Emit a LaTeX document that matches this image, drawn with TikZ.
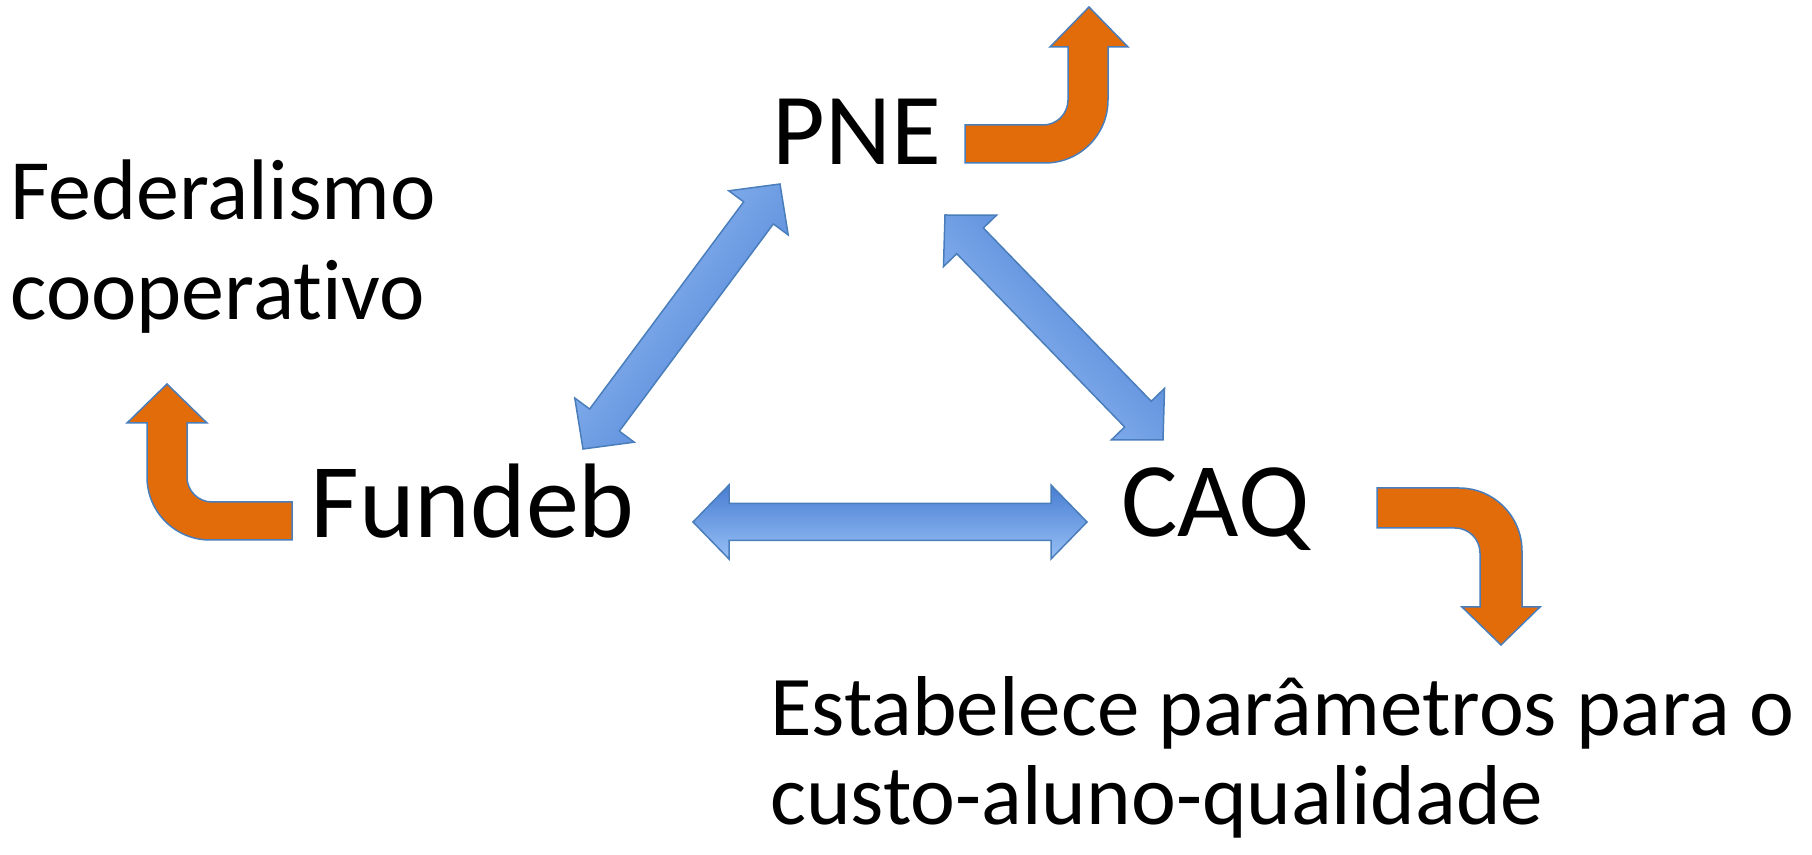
\documentclass[tikz,border=0pt]{standalone}
\usepackage{fontspec}
\setmainfont{Carlito}[Ligatures=NoCommon]
\usetikzlibrary{calc}

\definecolor{orangefill}{RGB}{227,108,10}
\definecolor{shapeline}{RGB}{74,126,187}
\definecolor{bluedark}{RGB}{72,125,210}
\definecolor{bluelight}{RGB}{152,192,246}

\newcommand{\headlen}{18pt}
\newcommand{\headhalf}{18.5pt}
\newcommand{\shafthalf}{9.25pt}

% double arrow between two named coordinates
\newcommand{\dblarrow}[3][]{%
  \path[bluearrow,#1] (#2)
    -- ($(#2)!\headlen!(#3)!\headhalf!90:(#3)$)
    -- ($(#2)!\headlen!(#3)!\shafthalf!90:(#3)$)
    -- ($(#3)!\headlen!(#2)!\shafthalf!-90:(#2)$)
    -- ($(#3)!\headlen!(#2)!\headhalf!-90:(#2)$)
    -- (#3)
    -- ($(#3)!\headlen!(#2)!\headhalf!90:(#2)$)
    -- ($(#3)!\headlen!(#2)!\shafthalf!90:(#2)$)
    -- ($(#2)!\headlen!(#3)!\shafthalf!-90:(#3)$)
    -- ($(#2)!\headlen!(#3)!\headhalf!-90:(#3)$)
    -- cycle;}

\begin{document}
\begin{tikzpicture}[x=0.5pt, y=-0.5pt,
    lbl/.style={inner sep=0pt, anchor=base west, font=\fontsize{#1}{60pt}\selectfont},
    lbl/.default=50pt,
    note/.style={inner sep=0pt, anchor=base west, align=left},
    bluearrow/.style={draw=shapeline, line width=0.75pt, line join=miter,
      top color=bluedark, bottom color=bluelight},
    bent/.style={draw=shapeline, line width=0.75pt, fill=orangefill}]
    \useasboundingbox (0,0) rectangle (1812,855);

    \node[lbl=51pt] (pne) at (772,165) {PNE};
    \node[lbl=53pt] (fundeb) at (310,538) {Fundeb};
    \node[lbl=53pt] (caq) at (1121,537) {CAQ};
    \node[note, font=\fontsize{43pt}{50pt}\selectfont] (fed) at (10,320) {Federalismo\\cooperativo};
    \node[note, font=\fontsize{42.5pt}{45pt}\selectfont] (caqnote) at (770,825) {Estabelece parâmetros para o\\custo-aluno-qualidade};

    \coordinate (fp1) at (583,449);
    \coordinate (fp2) at (780,184);
    \coordinate (pc1) at (945,215);
    \coordinate (pc2) at (1163,440);
    \coordinate (fc1) at (693,522);
    \coordinate (fc2) at (1087,522);

    \dblarrow[shading angle=-126.6]{fp1}{fp2}
    \dblarrow[shading angle=-45.9]{pc1}{pc2}
    \dblarrow{fc1}{fc2}

    % bent arrows
    \draw[bent] (965,125) -- (1043,125) arc[start angle=90, end angle=0, radius=25]
      -- (1068,47) -- (1050,47) -- (1089,7) -- (1128,47) -- (1108,47) -- (1108,100)
      arc[start angle=0, end angle=90, radius=63] -- (965,163) -- cycle;
    \draw[bent] (292,502) -- (212,502) arc[start angle=90, end angle=180, radius=25]
      -- (187,423) -- (207,423) -- (167,384) -- (127,423) -- (147,423) -- (147,477)
      arc[start angle=180, end angle=90, radius=63] -- (292,540) -- cycle;
    \draw[bent] (1377,488) -- (1459,488) arc[start angle=270, end angle=360, radius=63]
      -- (1522,607) -- (1540,607) -- (1501,645) -- (1462,607) -- (1480,607) -- (1480,553)
      arc[start angle=0, end angle=-90, radius=25] -- (1377,528) -- cycle;
\end{tikzpicture}
\end{document}
